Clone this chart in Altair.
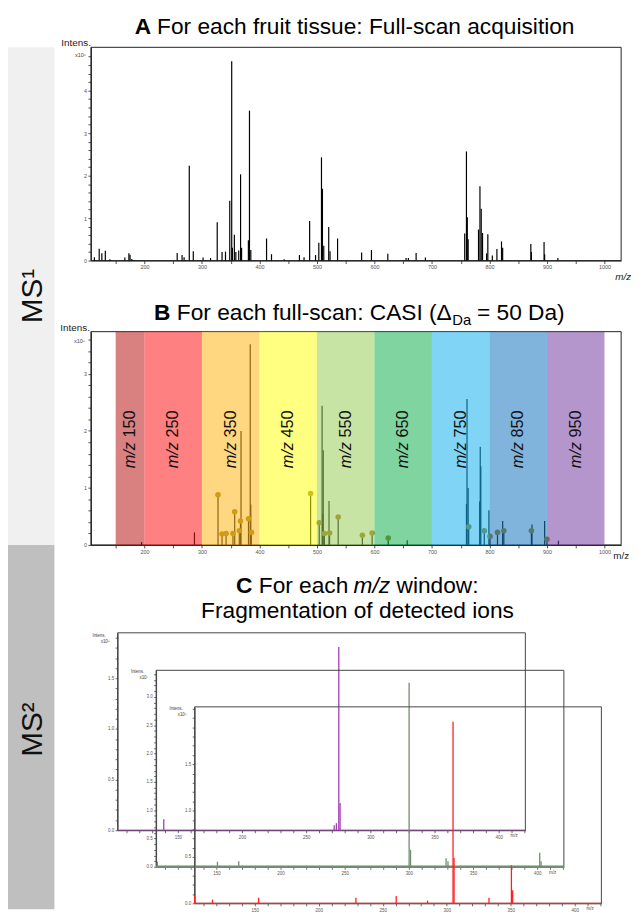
import altair as alt
import pandas as pd

FONT = "Liberation Sans"
W, H = 631, 907

# ---------------- data ----------------
# Panel A: full-scan MS1 spectrum (m/z, intensity x10^8)
a_peaks = [(113, 0.08), (121.4, 0.28), (126, 0.17), (132, 0.23), (140, 0.03), (166, 0.07),
           (173, 0.17), (175, 0.14), (178, 0.04), (257, 0.18), (265.5, 0.13), (269, 0.08),
           (278, 2.23), (285, 0.22), (302, 0.07), (315, 0.06), (326.6, 0.9), (335, 0.2),
           (341, 0.21), (348.4, 1.41), (351.8, 4.69), (353, 0.3), (356.4, 0.61), (359, 0.2),
           (364, 0.24), (367.2, 2.03), (369, 0.3), (380.8, 0.48), (382.7, 3.53), (385, 0.25),
           (412.4, 0.52), (421, 0.15), (443, 0.03), (469.6, 0.13), (477.6, 0.08), (487.3, 0.93),
           (497.6, 0.13), (503.3, 0.42), (507.9, 2.43), (509.6, 1.69), (511.9, 0.35), (520.5, 0.79),
           (522.8, 0.22), (535.9, 0.52), (577.7, 0.19), (594.8, 0.25), (623.3, 0.16), (655, 0.06),
           (659, 0.06), (672.5, 0.18), (688.6, 0.07), (757, 0.64), (760, 2.57), (761.5, 1.02),
           (763, 0.5), (781, 0.73), (783.5, 1.75), (785.7, 1.22), (788, 0.65), (795, 0.17),
           (797.2, 0.62), (805, 0.12), (813, 0.27), (821, 0.45), (823, 0.3), (872, 0.39),
           (873, 0.2), (895, 0.44), (896, 0.15), (919, 0.06)]

# Panel B: full-scan used for CASI (m/z, intensity x10^8)
b_peaks = [(195, 0.05), (287, 0.22), (328, 0.88), (335, 0.19), (342, 0.2), (354, 0.2),
           (357, 0.58), (365, 0.25), (367, 0.42), (368, 2.0), (381, 0.46), (384, 3.52),
           (385, 0.71), (386, 0.22), (489, 0.9), (504, 0.39), (509, 2.44), (510, 0.55),
           (511, 1.66), (513, 0.2), (521, 0.77), (522, 0.21), (537, 0.49), (579, 0.17),
           (596, 0.21), (624, 0.12), (657, 0.08), (760, 0.72), (761, 2.56), (763, 1.0),
           (764, 0.32), (783, 0.76), (784, 1.72), (785, 1.38), (791, 0.25), (799, 0.61),
           (801, 0.15), (814, 0.22), (823, 0.42), (825, 0.25), (873, 0.25), (874, 0.36),
           (896, 0.42), (900, 0.1), (920, 0.075)]
# detected ions (lollipop heads)
b_ions = [(328, 0.88), (335, 0.19), (342, 0.2), (354, 0.2), (357, 0.58), (365, 0.25),
          (367, 0.42), (381, 0.46), (386, 0.22), (489, 0.9), (504, 0.39), (513, 0.2),
          (522, 0.21), (537, 0.49), (579, 0.17), (596, 0.21), (624, 0.12), (764, 0.32),
          (791, 0.25), (801, 0.15), (814, 0.22), (825, 0.25), (873, 0.25), (900, 0.1)]

# CASI windows
casi_lo = [150, 200, 300, 400, 500, 600, 700, 800, 900]
casi_hi = [200, 300, 400, 500, 600, 700, 800, 900, 1000]
casi_names = ["150", "250", "350", "450", "550", "650", "750", "850", "950"]
casi_colors = ["#ba1818", "#ff1818", "#ffb618", "#ffff18", "#9bce5b",
               "#18b152", "#18b1ed", "#1877bf", "#7740a4"]

# Panel C: MS2 fragmentation spectra (m/z, intensity)
c1_peaks = [(139, 0.11), (271.8, 0.05), (273.5, 0.07), (275.4, 1.81), (276.4, 0.27)]   # x10^8
c2_peaks = [(104, 0.09), (150.8, 0.09), (167.4, 0.1), (300.2, 3.25), (301.3, 0.3),
            (329, 0.15), (330.5, 0.1), (402, 0.25), (403, 0.1)]                         # x10^7
c3_peaks = [(103, 0.08), (117, 0.04), (153, 0.06), (229, 0.06), (260.5, 0.08), (285, 0.03),
            (304.9, 1.96), (305.7, 0.49), (333, 0.06), (350.5, 0.41), (351.5, 0.14)]      # x10^8

# axis domains
MS1_X = [107, 1029]
A_Y = [0, 5.02]
B_Y = [0, 3.74]
C_X = [103, 420.8]
C1_Y = [0, 1.95]
C2_Y = [0, 3.47]
C3_Y = [0, 2.12]


def peaks_df(p):
    return pd.DataFrame(p, columns=["mz", "inten"])


def frame_df(xd, yd):
    return pd.DataFrame({"x0": [xd[0]], "x1": [xd[1]], "y0": [yd[0]], "y1": [yd[1]]})


one = pd.DataFrame({"k": [0]})


def axis(orient, offset, values, show, fmt, size=5.5, tick=3, dcol="#222"):
    return alt.Axis(orient=orient, offset=offset, values=values, format=fmt,
                    labelExpr="(" + show + ") ? datum.label : ''",
                    grid=False, domainColor=dcol, domainWidth=1, tickColor=dcol, tickWidth=0.8,
                    tickSize=tick, labelFont=FONT, labelFontSize=size, labelColor="#555",
                    labelPadding=1.5, labelFlush=False, labelOverlap=False, title=None)


def txt(text, x, y, size=23, weight="normal", style="normal", align="left",
        angle=0, color="#000", baseline="alphabetic"):
    return alt.Chart(one).mark_text(
        text=text, fontSize=size, fontWeight=weight, fontStyle=style, align=align,
        baseline=baseline, angle=angle, color=color, font=FONT
    ).encode(x=alt.value(x), y=alt.value(y))


ms_ticks_x = list(range(150, 1001, 50))

# ---------------- Panel A ----------------
xsA = alt.Scale(domain=MS1_X, range=[84, 621], nice=False, zero=False)
ysA = alt.Scale(domain=A_Y, range=[250, 34], nice=False, zero=False)
axXA = axis("bottom", 250 - H, ms_ticks_x, "datum.value % 100 === 0", "d")
axYA = axis("left", -84, [round(i * 0.2, 2) for i in range(25)],
            "abs(datum.value - round(datum.value)) < 0.001", ".0f")


def XA(f):
    return alt.X(f, type="quantitative", scale=xsA, axis=axXA, title=None)


def YA(f):
    return alt.Y(f, type="quantitative", scale=ysA, axis=axYA, title=None)


frameA = alt.Chart(frame_df(MS1_X, A_Y)).mark_rect(
    fillOpacity=0, stroke="#222", strokeWidth=1
).encode(x=XA("x0"), x2="x1", y=YA("y0"), y2="y1")
peaksA = alt.Chart(peaks_df(a_peaks)).mark_rule(color="#000", strokeWidth=1.2).encode(
    x=XA("mz"), y=YA("inten"), y2=alt.datum(0))
panelA = alt.layer(frameA, peaksA)

# ---------------- Panel B ----------------
ysB = alt.Scale(domain=B_Y, range=[538, 322], nice=False, zero=False)
axXB = axis("bottom", 538 - H, ms_ticks_x, "datum.value % 100 === 0", "d")
axYB = axis("left", -84, [round(i * 0.2, 2) for i in range(19)],
            "abs(datum.value - round(datum.value)) < 0.001", ".0f")


def XB(f):
    return alt.X(f, type="quantitative", scale=xsA, axis=axXB, title=None)


def YB(f):
    return alt.Y(f, type="quantitative", scale=ysB, axis=axYB, title=None)


casi = pd.DataFrame({"lo": casi_lo, "hi": casi_hi, "name": casi_names})
casi["mid"] = (casi["lo"] + casi["hi"]) / 2
casi["y0"] = B_Y[0]
casi["y1"] = B_Y[1]

frameB = alt.Chart(frame_df(MS1_X, B_Y)).mark_rect(
    fillOpacity=0, stroke="#222", strokeWidth=1
).encode(x=XB("x0"), x2="x1", y=YB("y0"), y2="y1")
peaksB = alt.Chart(peaks_df(b_peaks)).mark_rule(color="#000", strokeWidth=1.2).encode(
    x=XB("mz"), y=YB("inten"), y2=alt.datum(0))
ionsB = alt.Chart(peaks_df(b_ions)).mark_circle(size=32, color="#9a7a14", opacity=1).encode(
    x=XB("mz"), y=YB("inten"))
bandsB = alt.Chart(casi).mark_rect(opacity=0.55).encode(
    x=XB("lo"), x2="hi", y=YB("y0"), y2="y1",
    color=alt.Color("name:N", scale=alt.Scale(domain=casi_names, range=casi_colors), legend=None))
lab_mz = alt.Chart(casi).mark_text(
    text="m/z", fontSize=16.5, fontStyle="italic", font=FONT, angle=270,
    align="right", baseline="middle", color="#111"
).encode(x=XB("mid"), y=alt.value(433.8))
lab_num = alt.Chart(casi).mark_text(
    fontSize=16.5, font=FONT, angle=270, align="left", baseline="middle", color="#111"
).encode(x=XB("mid"), y=alt.value(429.2), text="name:N")
panelB = alt.layer(frameB, peaksB, ionsB, bandsB, lab_mz, lab_num)


# ---------------- Panel C (three overlapping MS2 frames) ----------------
def ms2_frame(peaks, ydom, xr, yr, color, ymax_label, base_w):
    xs = alt.Scale(domain=C_X, range=xr, nice=False, zero=False)
    ys = alt.Scale(domain=ydom, range=yr, nice=False, zero=False)
    ax = axis("bottom", yr[0] - H, list(range(110, 421, 10)), "datum.value % 50 === 0", "d",
              size=4.5, tick=2.5, dcol="#444")
    nvals = int(ydom[1] * 10) + 1
    ay = axis("left", -xr[0], [round(i * 0.1, 1) for i in range(nvals)],
              "abs(datum.value*2 - round(datum.value*2)) < 0.001 && datum.value <= %s" % ymax_label,
              ".1f", size=4.5, tick=2.5, dcol="#444")

    def X(f):
        return alt.X(f, type="quantitative", scale=xs, axis=ax, title=None)

    def Y(f):
        return alt.Y(f, type="quantitative", scale=ys, axis=ay, title=None)

    fr = alt.Chart(frame_df(C_X, ydom)).mark_rect(
        fillOpacity=0, stroke="#444", strokeWidth=1
    ).encode(x=X("x0"), x2="x1", y=Y("y0"), y2="y1")
    base = alt.Chart(frame_df(C_X, ydom)).mark_rule(color=color, strokeWidth=base_w).encode(
        x=X("x0"), x2="x1", y=Y("y0"))
    pk = alt.Chart(peaks_df(peaks)).mark_rule(color=color, strokeWidth=1.3).encode(
        x=X("mz"), y=Y("inten"), y2=alt.datum(0))
    return alt.layer(fr, base, pk)


C1 = ms2_frame(c1_peaks, C1_Y, [111, 524], [827, 627], "#a23db5", "1.6", 0.6)
C2 = ms2_frame(c2_peaks, C2_Y, [150, 563], [864, 665], "#6e8e6e", "3.1", 2.4)
C3 = ms2_frame(c3_peaks, C3_Y, [189, 601], [901, 702], "#ff2020", "1.6", 1.4)

# ---------------- side bands and text ----------------
bandMS1 = alt.Chart(one).mark_rect(color="#f0f0f0").encode(
    x=alt.value(0), x2=alt.value(47), y=alt.value(34), y2=alt.value(538))
bandMS2 = alt.Chart(one).mark_rect(color="#bfbfbf").encode(
    x=alt.value(0), x2=alt.value(47), y=alt.value(538), y2=alt.value(907))

texts = [
    txt("MS¹", 34.5, 286, size=30, align="center", angle=270, color="#111"),
    txt("MS²", 34.5, 725, size=30, align="center", angle=270, color="#111"),
    # titles
    txt("A", 145, 21, weight="bold", align="right"),
    txt("For each fruit tissue: Full-scan acquisition", 151, 21),
    txt("B", 164.5, 310, weight="bold", align="right"),
    txt("For each full-scan: CASI (Δ", 171, 310),
    txt("Da", 450, 315, size=15),
    txt("= 50 Da)", 475, 310),
    txt("C", 247.5, 587, weight="bold", align="right"),
    txt("For each", 254, 587),
    txt("m/z", 350, 587, style="italic"),
    txt("window:", 393.5, 587),
    txt("Fragmentation of detected ions", 354, 612, align="center"),
    # axis annotations, panel A and B
    txt("Intens.", 54, 33, size=10, color="#222"),
    txt("x10⁸", 79, 44, size=5.5, align="right", color="#444"),
    txt("m/z", 615, 270, size=10, style="italic", color="#222"),
    txt("Intens.", 53, 321, size=10, color="#222"),
    txt("x10⁸", 78, 333, size=5.5, align="right", color="#444"),
    txt("m/z", 613, 552, size=10, color="#222"),
    # panel C frames
    txt("Intens.", 99, 631, size=4.5, align="right", color="#444"),
    txt("x10⁸", 103, 637, size=4.5, align="right", color="#444"),
    txt("Intens.", 138, 668, size=4.5, align="right", color="#444"),
    txt("x10⁷", 142, 674, size=4.5, align="right", color="#444"),
    txt("Intens.", 177, 705, size=4.5, align="right", color="#444"),
    txt("x10⁸", 181, 711, size=4.5, align="right", color="#444"),
    txt("m/z", 509, 834, size=4.5, color="#444"),
    txt("m/z", 548, 871, size=4.5, color="#444"),
    txt("m/z", 586, 908, size=4.5, color="#444"),
]

chart = alt.layer(
    bandMS1, bandMS2, panelA, panelB, C1, C2, C3, *texts
).resolve_scale(
    x="independent", y="independent", color="independent"
).properties(
    width=W, height=H, padding=0, autosize=alt.AutoSizeParams(type="none"),
    background="white"
).configure_view(stroke=None)

chart.save("out.html", embed_options={"renderer": "svg", "actions": False})
